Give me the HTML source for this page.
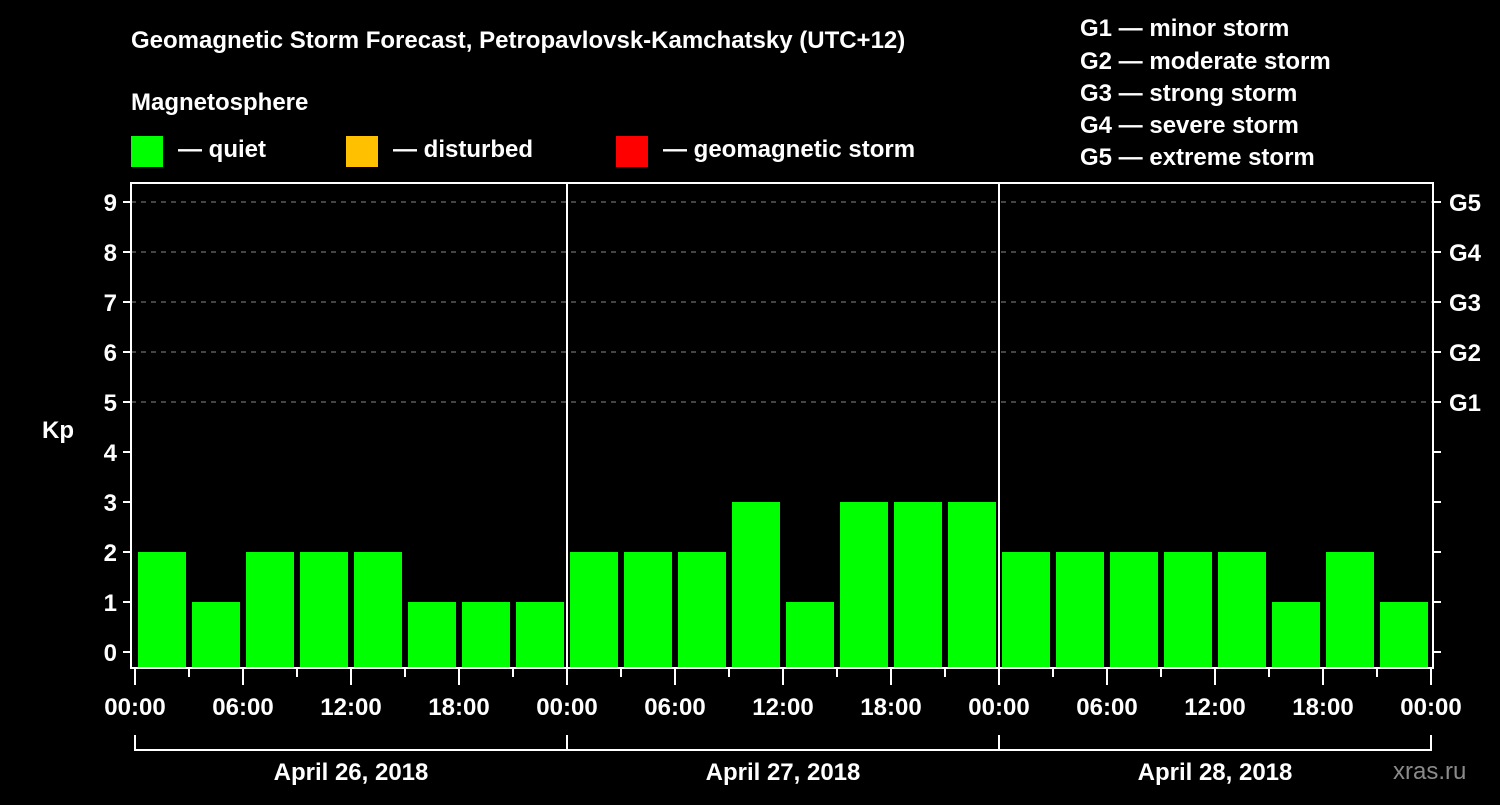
<!DOCTYPE html>
<html><head><meta charset="utf-8"><style>
html,body{margin:0;padding:0;background:#000;}
svg text{font-family:"Liberation Sans",Arial,sans-serif;font-weight:bold;fill:#fff;}
</style></head><body>
<svg id="chart" width="1500" height="800" viewBox="0 0 1500 800" xmlns="http://www.w3.org/2000/svg">
<rect width="1500" height="800" fill="#000"/>
<text x="131" y="48" font-size="24">Geomagnetic Storm Forecast, Petropavlovsk-Kamchatsky (UTC+12)</text>
<text x="131" y="110" font-size="24">Magnetosphere</text>
<g><rect x="131" y="136" width="32" height="31" fill="#00ff00"/><text x="178" y="157" font-size="24">— quiet</text></g>
<g><rect x="346" y="136" width="32" height="31" fill="#ffc000"/><text x="393" y="157" font-size="24">— disturbed</text></g>
<g><rect x="616" y="136" width="32" height="31" fill="#ff0000"/><text x="663" y="157" font-size="24">— geomagnetic storm</text></g>
<g font-size="24">
<text x="1080" y="36">G1 — minor storm</text>
<text x="1080" y="69">G2 — moderate storm</text>
<text x="1080" y="101">G3 — strong storm</text>
<text x="1080" y="133">G4 — severe storm</text>
<text x="1080" y="165">G5 — extreme storm</text>
</g>
<text x="42" y="438" font-size="24">Kp</text>
<text x="1393" y="779" font-size="24" fill="#888" style="fill:#8a8a8a;font-weight:normal">xras.ru</text>
<g id="grid"></g><g id="bars"></g><g id="axes"></g>
</svg>
<script>
const days = ["April 26, 2018","April 27, 2018","April 28, 2018"];
const kpDay1 = [2,1,2,2,2,1,1,1];
const kpDay2 = [2,2,2,3,1,3,3,3];
const kpDay3 = [2,2,2,2,2,1,2,1];
const yTicks = [0,1,2,3,4,5,6,7,8,9];
const gLabels = ["G1","G2","G3","G4","G5"];
const xTickLabels = ["00:00","06:00","12:00","18:00"];
const NS="http://www.w3.org/2000/svg";
const x0=135, dayW=432, L=131, R=1433, T=183, B=668;
const yS=v=>652-v*50;
const xS=h=>x0+h*dayW/24;
function mk(t,a,p){const e=document.createElementNS(NS,t);for(const k in a)e.setAttribute(k,a[k]);p.appendChild(e);return e;}
const grid=document.getElementById('grid'),bars=document.getElementById('bars'),axes=document.getElementById('axes');
[5,6,7,8,9].forEach(v=>{const l=mk('line',{x1:L,x2:R,y1:yS(v),y2:yS(v),stroke:'#888','stroke-dasharray':'5,5','stroke-width':1},grid);

});
const all=[kpDay1,kpDay2,kpDay3];
all.forEach((arr,d)=>arr.forEach((v,i)=>{
 const h=d*24+i*3;
 const c=v>=5?'#ff0000':(v>=4?'#ffc000':'#00ff00');
 const r=mk('rect',{x:xS(h)+3,y:yS(v),width:dayW/8-6,height:B-yS(v),fill:c},bars);
 
 
}));
const fr=mk('rect',{x:L,y:T,width:R-L,height:B-T,fill:'none',stroke:'#fff','stroke-width':2},axes);


[1,2].forEach(d=>{const l=mk('line',{x1:xS(d*24),x2:xS(d*24),y1:T,y2:B,stroke:'#fff','stroke-width':2},axes);

});
yTicks.forEach(v=>{
 mk('line',{x1:L-8,x2:L,y1:yS(v),y2:yS(v),stroke:'#fff','stroke-width':2},axes);
 mk('line',{x1:R,x2:R+8,y1:yS(v),y2:yS(v),stroke:'#fff','stroke-width':2},axes);
 const t=mk('text',{x:L-14,y:yS(v)+9,'font-size':24,'text-anchor':'end'},axes);t.textContent=v;
 
 
});
gLabels.forEach((g,i)=>{const t=mk('text',{x:1449,y:yS(5+i)+9,'font-size':24},axes);t.textContent=g;
 
 });
for(let h=0;h<=72;h+=3){
 const major=h%6===0;
 mk('line',{x1:xS(h),x2:xS(h),y1:B,y2:B+(major?17:9),stroke:'#fff','stroke-width':2},axes);
 if(major){const t=mk('text',{x:xS(h),y:715,'font-size':24,'text-anchor':'middle'},axes);
  t.textContent=xTickLabels[(h/6)%4];
  
  }
}
days.forEach((d,i)=>{
 const a=xS(i*24),b=xS(i*24+24);
 mk('path',{d:`M${a},735V750H${b}V735`,fill:'none',stroke:'#fff','stroke-width':2},axes);
 const t=mk('text',{x:(a+b)/2,y:780,'font-size':24,'text-anchor':'middle'},axes);t.textContent=d;
 
 
});
</script>
</body></html>
